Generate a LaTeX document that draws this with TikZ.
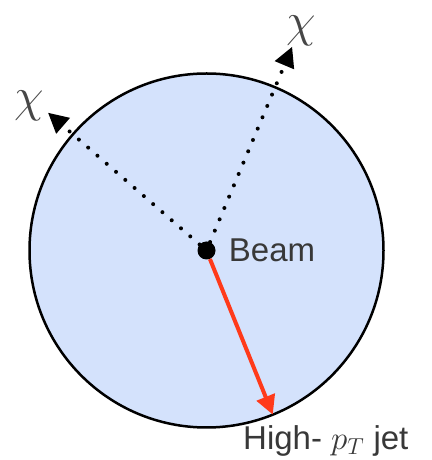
\RequirePackage{fix-cm}
\documentclass[tikz,border=0pt]{standalone}
\usepackage[no-math]{fontspec}
\setmainfont{Liberation Sans}
\usepackage{tikz}
\usetikzlibrary{arrows.meta,positioning,calc}
\definecolor{pipeblue}{RGB}{212,226,252}
\definecolor{jetred}{RGB}{255,58,26}
\tikzstyle{pipe} = [circle, draw=black, line width=2.5pt, fill=pipeblue, minimum size=354pt, inner sep=0pt, outer sep=0pt]
\tikzstyle{beamdot} = [circle, fill=black, minimum size=18pt, inner sep=0pt]
\tikzstyle{chiarrow} = [line width=4pt, line cap=round, dash pattern=on 0pt off 12.3pt, -{Triangle[length=20pt,width=20pt]}]
\tikzstyle{jetarrow} = [line width=4pt, draw=jetred, -{Triangle[length=19pt,width=19pt]}]
\tikzstyle{lbl} = [font=\fontsize{33}{40}\selectfont, text=black!78, inner sep=0pt]
\tikzstyle{chilbl} = [font=\fontsize{48}{54}\selectfont, text=black!72, inner sep=0pt]

\begin{document}
\begin{tikzpicture}[x=1pt, y=1pt]
    \useasboundingbox (0,0) rectangle (431,460);
        \node (pipe) [pipe] at (206.5,209.5) {};
        \node (beam) [beamdot] at (pipe.center) {};
        \node (beamlbl) [lbl, right=13pt of beam] {Beam};
        \coordinate (chiLtip) at ([shift={(139:210)}]pipe.center);
        \coordinate (chiRtip) at ([shift={(67.2:221)}]pipe.center);
        \coordinate (jettip) at (pipe.-68);
        \node (chiL) [chilbl] at (29,354) {$\chi$};
        \node (chiR) [chilbl] at (301,429) {$\chi$};
        \node (jetlbl) [lbl, anchor=base west] at (243,10) {High- $p_T$ jet};
        \draw [chiarrow] (beam) -- (chiLtip);
        \draw [chiarrow] (beam) -- (chiRtip);
        \draw [jetarrow] (beam) -- (jettip);
    \end{tikzpicture}
\end{document}
